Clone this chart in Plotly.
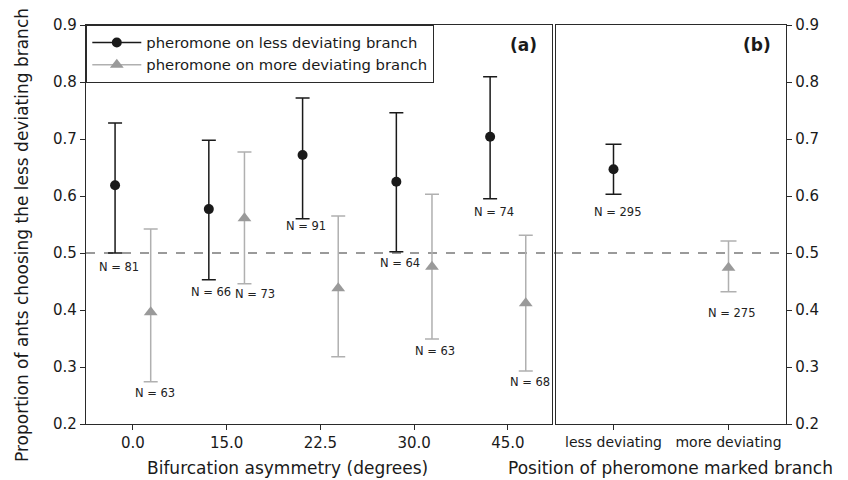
import plotly.graph_objects as go

# ---------------- data ----------------
angles = ["0.0", "15.0", "22.5", "30.0", "45.0"]
less_mean = [0.619, 0.577, 0.672, 0.625, 0.704]
less_upper = [0.728, 0.698, 0.772, 0.746, 0.809]
less_lower = [0.500, 0.453, 0.560, 0.502, 0.595]
less_n = [81, 66, 91, 64, 74]

more_mean = [0.396, 0.561, 0.438, 0.476, 0.412]
more_upper = [0.542, 0.677, 0.565, 0.603, 0.531]
more_lower = [0.274, 0.446, 0.318, 0.349, 0.293]
more_n = [63, 73, None, 63, 68]

positions = ["less deviating", "more deviating"]
pos_mean = [0.647, 0.474]
pos_upper = [0.691, 0.521]
pos_lower = [0.603, 0.432]
pos_n = [295, 275]

y_ticks = [0.2, 0.3, 0.4, 0.5, 0.6, 0.7, 0.8, 0.9]
# --------------------------------------

W, H = 848, 480
PAGE_OFF = 8  # default body margin of the html page
BLACK = "#1a1a1a"
AXIS = "#2a2a2a"
GREY = "#9a9a9a"
GREY_BAR = "#b0b0b0"
FONT = "DejaVu Sans"
OFF = 0.19


def px(x):
    return (x - PAGE_OFF) / W


def py(y):
    return 1 - (y - PAGE_OFF) / H


# label pixel offsets (layout only)
less_shift = [(4, -14), (2, -12), (3, -7), (4, -11), (4, -13)]
more_shift = [(4, -11), (11, -10), None, (3, -12), (4, -11)]
pos_shift = [(4, -18), (3, -21)]

xa = list(range(len(angles)))
fig = go.Figure()


def err(mean, up, lo):
    return dict(type="data", symmetric=False,
                array=[u - m for u, m in zip(up, mean)],
                arrayminus=[m - l for m, l in zip(mean, lo)])


e1 = err(less_mean, less_upper, less_lower)
e1.update(color=BLACK, thickness=1.5, width=7)
fig.add_trace(go.Scatter(x=[i - OFF for i in xa], y=less_mean, mode="markers",
                         marker=dict(symbol="circle", size=10, color=BLACK),
                         error_y=e1, showlegend=False, xaxis="x", yaxis="y"))
e2 = err(more_mean, more_upper, more_lower)
e2.update(color=GREY_BAR, thickness=1.5, width=7)
fig.add_trace(go.Scatter(x=[i + OFF for i in xa], y=more_mean, mode="markers",
                         marker=dict(symbol="triangle-up", size=12, color=GREY),
                         error_y=e2, showlegend=False, xaxis="x", yaxis="y"))

# panel b
e3 = err(pos_mean[:1], pos_upper[:1], pos_lower[:1])
e3.update(color=BLACK, thickness=1.5, width=8)
fig.add_trace(go.Scatter(x=[0], y=pos_mean[:1], mode="markers",
                         marker=dict(symbol="circle", size=10, color=BLACK),
                         error_y=e3, showlegend=False, xaxis="x2", yaxis="y2"))
e4 = err(pos_mean[1:], pos_upper[1:], pos_lower[1:])
e4.update(color=GREY_BAR, thickness=1.5, width=8)
fig.add_trace(go.Scatter(x=[1], y=pos_mean[1:], mode="markers",
                         marker=dict(symbol="triangle-up", size=12, color=GREY),
                         error_y=e4, showlegend=False, xaxis="x2", yaxis="y2"))

# legend entries
fig.add_trace(go.Scatter(x=[None], y=[None], mode="lines+markers",
                         name="pheromone on less deviating branch",
                         line=dict(color=BLACK, width=1.5),
                         marker=dict(symbol="circle", size=10, color=BLACK)))
fig.add_trace(go.Scatter(x=[None], y=[None], mode="lines+markers",
                         name="pheromone on more deviating branch",
                         line=dict(color=GREY_BAR, width=1.5),
                         marker=dict(symbol="triangle-up", size=12, color=GREY)))

NFONT = dict(size=11.5, color="#222")
ann = []
for i, n in enumerate(less_n):
    if n is None:
        continue
    dx, dy = less_shift[i]
    ann.append(dict(x=i - OFF, y=less_lower[i], xref="x", yref="y", text=f"N = {n}",
                    xanchor="center", yanchor="middle",
                    showarrow=False, xshift=dx, yshift=dy, font=NFONT))
for i, n in enumerate(more_n):
    if n is None:
        continue
    dx, dy = more_shift[i]
    ann.append(dict(x=i + OFF, y=more_lower[i], xref="x", yref="y", text=f"N = {n}",
                    xanchor="center", yanchor="middle",
                    showarrow=False, xshift=dx, yshift=dy, font=NFONT))
for i, n in enumerate(pos_n):
    dx, dy = pos_shift[i]
    ann.append(dict(x=i, y=pos_lower[i], xref="x2", yref="y2", text=f"N = {n}",
                    xanchor="center", yanchor="middle",
                    showarrow=False, xshift=dx, yshift=dy, font=NFONT))

ann += [
    dict(x=px(523), y=py(45), text="<b>(a)</b>", font=dict(size=17, color=BLACK)),
    dict(x=px(757), y=py(45), text="<b>(b)</b>", font=dict(size=17, color=BLACK)),
    dict(x=px(287), y=py(468), text="Bifurcation asymmetry (degrees)",
         font=dict(size=17, color=BLACK)),
    dict(x=px(670), y=py(468), text="Position of pheromone marked branch",
         font=dict(size=17, color=BLACK)),
    dict(x=px(22), y=py(235), textangle=-90,
         text="Proportion of ants choosing the less deviating branch",
         font=dict(size=17, color=BLACK)),
]
for a in ann[-5:]:
    a.update(xref="paper", yref="paper", xanchor="center", yanchor="middle",
             showarrow=False)

xa_dom = [px(86), px(552)]
xb_dom = [px(556), px(786)]
y_dom = [py(424), py(25)]

axis_common = dict(showline=True, linecolor=AXIS, linewidth=1.3, mirror=True,
                   ticks="outside", ticklen=5, tickwidth=1.3, tickcolor=AXIS,
                   showgrid=False, zeroline=False, automargin=False)

fig.update_layout(
    template="none",
    width=W, height=H, margin=dict(l=0, r=0, t=0, b=0, pad=0, autoexpand=False),
    paper_bgcolor="white", plot_bgcolor="white",
    font=dict(family=FONT, color=BLACK),
    xaxis=dict(domain=xa_dom, range=[-0.5, 4.47], tickvals=xa, ticktext=angles,
               tickfont=dict(size=15), anchor="y", **axis_common),
    yaxis=dict(domain=y_dom, range=[0.2, 0.9], tickvals=y_ticks,
               ticktext=[f"{v:.1f}" for v in y_ticks], tickfont=dict(size=15),
               anchor="x", **axis_common),
    xaxis2=dict(domain=xb_dom, range=[-0.5, 1.5], tickvals=[0, 1], ticktext=positions,
                tickfont=dict(size=14), anchor="y2", **axis_common),
    yaxis2=dict(domain=y_dom, range=[0.2, 0.9], tickvals=y_ticks,
                ticktext=[f"{v:.1f}" for v in y_ticks], tickfont=dict(size=15),
                side="right", anchor="x2", **axis_common),
    legend=dict(x=px(86), y=py(25), xanchor="left", yanchor="top",
                bordercolor=AXIS, borderwidth=1.3, bgcolor="white",
                font=dict(size=14.8, color=BLACK), itemwidth=49,
                tracegroupgap=0),
    shapes=[dict(type="line", xref="paper", yref="y", x0=px(86), x1=px(786),
                 y0=0.5, y1=0.5, line=dict(color="#7a7a7a", width=1.5, dash="dash"),
                 layer="below")],
    annotations=ann,
)

fig.write_html("out.html")
